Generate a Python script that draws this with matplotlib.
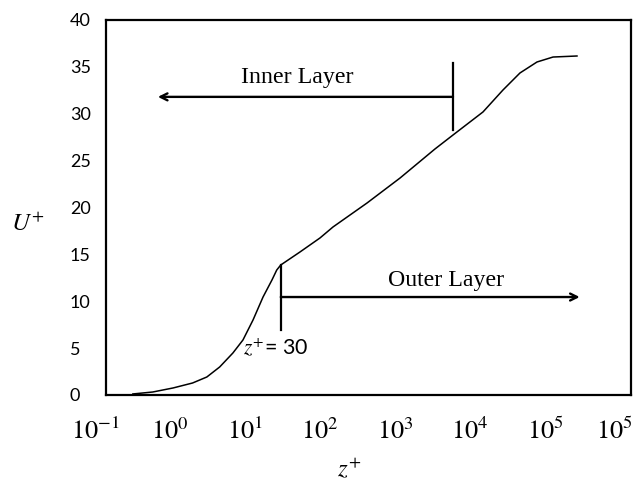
import numpy as np
import matplotlib.pyplot as plt
from matplotlib.transforms import blended_transform_factory

plt.rcParams['mathtext.fontset'] = 'stix'
plt.rcParams['font.family'] = ['Lato', 'DejaVu Sans']

# mean velocity profile in wall units
z_plus = [0.32, 0.59, 1.1, 2.0, 3.1, 4.6, 6.9, 9.4, 12.8, 17.4, 22.9, 26.5, 30,
          54, 100, 149, 424, 1170, 3410, 5930, 14900, 27500, 46400, 78200,
          128000, 267000]
u_plus = [0.11, 0.32, 0.75, 1.28, 1.92, 2.99, 4.48, 5.87, 8.0, 10.45, 12.27, 13.33, 13.87,
          15.25, 16.75, 17.92, 20.48, 23.15, 26.24, 27.73, 30.19, 32.53, 34.35, 35.52,
          36.05, 36.16]

y_ticks = [0, 5, 10, 15, 20, 25, 30, 35, 40]
x_tick_pos = [1e-1, 1e0, 1e1, 1e2, 1e3, 1e4, 1e5, 10**5.93]
x_tick_lab = [r'$10^{-1}$', r'$10^{0}$', r'$10^{1}$', r'$10^{2}$',
              r'$10^{3}$', r'$10^{4}$', r'$10^{5}$', r'$10^{5}$']

z_inner = 5930     # end of inner layer
z_outer = 30       # start of outer layer

fig = plt.figure(figsize=(6.35, 4.83), dpi=100)
ax = fig.add_axes([0.1669, 0.1822, 0.8268, 0.7764])

ax.plot(z_plus, u_plus, color='black', lw=1.1)

ax.set_xscale('log')
ax.set_xlim(10**-0.8533, 10**6.1467)
ax.set_ylim(0, 40)

for s in ax.spines.values():
    s.set_linewidth(1.6)

ax.set_xticks([])
ax.minorticks_off()
ax.set_yticks(y_ticks)
ax.tick_params(axis='y', length=0, pad=26, labelsize=13)
for lab in ax.get_yticklabels():
    lab.set_horizontalalignment('left')

trans = blended_transform_factory(ax.transData, ax.transAxes)
for xp, xl in zip(x_tick_pos, x_tick_lab):
    ax.text(xp, -0.095, xl, transform=trans, ha='center', va='center',
            fontsize=19, clip_on=False)

fig.text(0.044, 0.538, r'$U^{+}$', fontsize=18, ha='center', va='center')
fig.text(0.55, 0.031, r'$z^{+}$', fontsize=18, ha='center', va='center')

# inner layer marker
ax.plot([z_inner, z_inner], [28.3, 35.4], color='black', lw=1.6)
ax.annotate('', xy=(0.69, 31.8), xytext=(z_inner, 31.8),
            arrowprops=dict(arrowstyle='->,head_length=0.5,head_width=0.25',
                            color='black', lw=1.7, shrinkA=0, shrinkB=0))
ax.text(49, 33.9, 'Inner Layer', family='Liberation Serif', fontsize=17.2,
        ha='center', va='center')

# outer layer marker
ax.plot([z_outer, z_outer], [6.93, 13.87], color='black', lw=1.6)
ax.annotate('', xy=(2.9e5, 10.45), xytext=(z_outer, 10.45),
            arrowprops=dict(arrowstyle='->,head_length=0.5,head_width=0.25',
                            color='black', lw=1.7, shrinkA=0, shrinkB=0))
ax.text(4790, 12.16, 'Outer Layer', family='Liberation Serif', fontsize=17.2,
        ha='center', va='center')

ax.text(9.4, 5.1, r'$z^{+}$= 30', fontsize=15.5, ha='left', va='center')

fig.savefig('out.png', dpi=100)
